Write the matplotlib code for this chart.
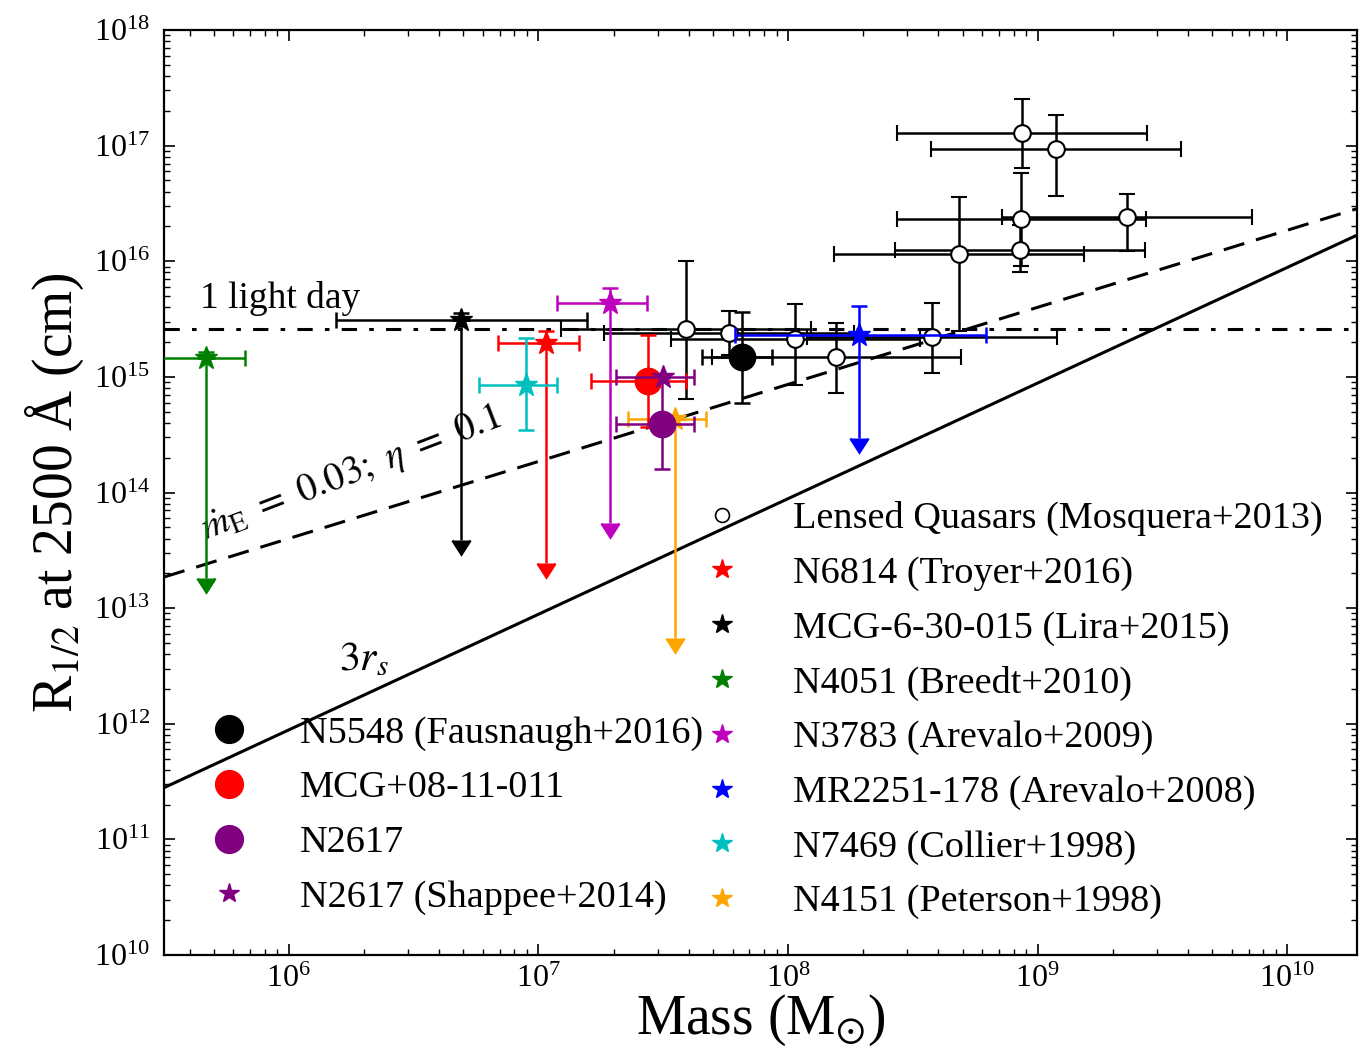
import matplotlib
matplotlib.use('Agg')
import matplotlib.pyplot as plt
from matplotlib.lines import Line2D
import numpy as np

plt.rcParams['font.family'] = ['Liberation Serif', 'DejaVu Serif']
plt.rcParams['mathtext.fontset'] = 'stix'

# Lensed quasars (Mosquera+2013)
qsoMass = [3.9e7, 5.8e7, 1.07e8, 1.56e8, 3.78e8, 4.83e8, 8.6e8, 8.5e8, 2.28e9, 8.65e8, 1.18e9]
qsoR = [2.58e15, 2.38e15, 2.12e15, 1.48e15, 2.20e15, 1.15e16, 2.30e16, 1.25e16, 2.43e16, 1.29e17, 9.3e16]
qsoRlo = [6.4e14, 1.55e15, 8.5e14, 7.3e14, 1.08e15, 2.51e15, 9.1e15, 8.1e15, 1.23e16, 6.4e16, 3.66e16]
qsoRhi = [1.01e16, 3.73e15, 4.24e15, 2.90e15, 4.32e15, 3.57e16, 5.75e16, 2.06e16, 3.81e16, 2.52e17, 1.84e17]
qsoMassErrDex = 0.5

# literature reverberation results (stars)
starNames = ['N6814 (Troyer+2016)', 'MCG-6-30-015 (Lira+2015)', 'N4051 (Breedt+2010)',
             'N3783 (Arevalo+2009)', 'MR2251-178 (Arevalo+2008)', 'N7469 (Collier+1998)',
             'N4151 (Peterson+1998)']
starColors = ['r', 'k', 'g', 'm', 'b', 'c', 'orange']
starMass = [1.07e7, 4.91e6, 4.65e5, 1.94e7, 1.92e8, 8.9e6, 3.53e7]
starMlo = [6.9e6, 1.55e6, 3.0e5, 1.19e7, 6.1e7, 5.8e6, 2.28e7]
starMhi = [1.45e7, 1.57e7, 6.7e5, 2.71e7, 6.2e8, 1.19e7, 4.69e7]
starR = [1.95e15, 3.10e15, 1.46e15, 4.38e15, 2.30e15, 8.5e14, 4.3e14]
starRhi = [2.49e15, 3.56e15, 1.65e15, 5.83e15, 4.09e15, 2.15e15, 4.3e14]
starRlo = [2.47e13, 3.87e13, 1.82e13, 5.47e13, 2.94e14, 3.47e14, 5.5e12]
starIsLimit = [True, True, True, True, True, False, True]

# this work (big circles)
circNames = ['N5548 (Fausnaugh+2016)', 'MCG+08-11-011', 'N2617']
circColors = ['k', 'r', 'purple']
circMass = [6.56e7, 2.74e7, 3.13e7]
circMlo = [4.5e7, 1.63e7, 2.05e7]
circMhi = [8.65e7, 3.9e7, 4.21e7]
circR = [1.48e15, 9.2e14, 3.91e14]
circRlo = [5.9e14, 3.70e14, 1.61e14]
circRhi = [3.66e15, 2.30e15, 9.8e14]

# N2617 (Shappee+2014)
shapName = 'N2617 (Shappee+2014)'
shapMass = 3.14e7
shapMlo = 2.05e7
shapMhi = 4.21e7
shapR = 1.0e15

lightDay = 2.59e15      # cm
rsPerMsun = 2.95e5      # cm
diskNorm = 4.0e9        # R = diskNorm * M^(2/3)

fig = plt.figure(figsize=(13.59, 10.5), dpi=100)
ax = fig.add_axes([0.1207, 0.0905, 0.8778, 0.8809])
ax.set_xscale('log')
ax.set_yscale('log')
ax.set_xlim(10**5.5, 1.9e10)
ax.set_ylim(1e10, 1e18)

# model lines
mgrid = np.logspace(5.5, 10.3, 50)
ax.plot(mgrid, 3 * rsPerMsun * mgrid, '-k', lw=2.2)
ax.plot(mgrid, diskNorm * mgrid**(2.0 / 3.0), '--k', lw=2.2, dashes=(7, 4))
ax.axhline(lightDay, color='k', lw=2.2, dashes=(5, 4, 1.5, 4))

lw = 1.8
cs = 5.5

# lensed quasars
qm = np.array(qsoMass)
qr = np.array(qsoR)
ax.errorbar(qm, qr,
            xerr=[qm - qm / 10**qsoMassErrDex, qm * 10**qsoMassErrDex - qm],
            yerr=[qr - np.array(qsoRlo), np.array(qsoRhi) - qr],
            fmt='o', ms=12, mfc='w', mec='k', mew=1.5, ecolor='k',
            elinewidth=lw, capsize=cs, capthick=lw, zorder=3)

# literature stars
for i in range(len(starMass)):
    m, r, c = starMass[i], starR[i], starColors[i]
    if starIsLimit[i]:
        _, caps, _ = ax.errorbar([m], [r], yerr=[[r - starRlo[i]]], uplims=[True], fmt='none',
                                 ecolor=c, elinewidth=lw, capsize=cs, capthick=lw, zorder=4)
        # arrow heads
        for cap in caps:
            cap.set_color(c)
            cap.set_markerfacecolor(c)
            cap.set_markeredgecolor(c)
            cap.set_markersize(13)
        yerr = [[0], [starRhi[i] - r]]
    else:
        yerr = [[r - starRlo[i]], [starRhi[i] - r]]
    ax.errorbar([m], [r], xerr=[[m - starMlo[i]], [starMhi[i] - m]], yerr=yerr,
                fmt='*', ms=17, color=c, mec=c, ecolor=c,
                elinewidth=lw, capsize=cs, capthick=lw, zorder=4)

# big circles
for i in range(len(circMass)):
    m, r, c = circMass[i], circR[i], circColors[i]
    ax.errorbar([m], [r], xerr=[[m - circMlo[i]], [circMhi[i] - m]],
                yerr=[[r - circRlo[i]], [circRhi[i] - r]],
                fmt='o', ms=19, color=c, mec=c, ecolor=c,
                elinewidth=lw, capsize=cs, capthick=lw, zorder=5)

ax.errorbar([shapMass], [shapR], xerr=[[shapMass - shapMlo], [shapMhi - shapMass]],
            fmt='*', ms=17, color='purple', ecolor='purple',
            elinewidth=lw, capsize=cs, capthick=lw, zorder=6)

# annotations
ax.text(10**5.645, 10**15.60, '1 light day', fontsize=27)
ax.text(10**5.665, 10**13.59, r'$\dot{m}_{\rm E}\ =\ 0.03;\ \eta\ =\ 0.1$', fontsize=28,
        rotation=21, rotation_mode='anchor', ha='left', va='baseline')
ax.text(10**6.2, 10**12.46, r'$3r_s$', fontsize=30)

# axes style
for sp in ax.spines.values():
    sp.set_linewidth(1.6)
ax.tick_params(which='both', direction='in', top=True, right=True)
ax.tick_params(which='major', length=8, width=1.2, labelsize=23)
ax.tick_params(axis='x', which='major', pad=7)
ax.tick_params(axis='y', which='major', pad=10)
ax.tick_params(which='minor', length=4.5, width=1.0)
ax.set_xlabel(r'Mass (M$_{\odot}$)', fontsize=40, labelpad=-1)
ax.set_ylabel(r'R$_{1/2}$ at 2500 Å (cm)', fontsize=40, labelpad=6)

# legends
rightHandles = [Line2D([], [], ls='none', marker='o', ms=10, mfc='w', mec='k', mew=1.2)]
for c in starColors:
    rightHandles.append(Line2D([], [], ls='none', marker='*', ms=15, color=c))
rightLabels = ['Lensed Quasars (Mosquera+2013)'] + starNames
leg1 = ax.legend(rightHandles, rightLabels, loc='upper left', frameon=False,
                 bbox_to_anchor=(703 / 1359, 1 - 501 / 1050), bbox_transform=fig.transFigure,
                 fontsize=27.5, handlelength=1.0, handletextpad=1.35, labelspacing=0.52,
                 borderpad=0, borderaxespad=0, numpoints=1)
ax.add_artist(leg1)

leftHandles = [Line2D([], [], ls='none', marker='o', ms=20, color=c) for c in circColors]
leftHandles.append(Line2D([], [], ls='none', marker='*', ms=15, color='purple'))
leftLabels = circNames + [shapName]
ax.legend(leftHandles, leftLabels, loc='upper left', frameon=False,
          bbox_to_anchor=(210 / 1359, 1 - 716 / 1050), bbox_transform=fig.transFigure,
          fontsize=27.5, handlelength=1.0, handletextpad=1.35, labelspacing=0.52,
          borderpad=0, borderaxespad=0, numpoints=1)

fig.savefig('out.png', dpi=100)
